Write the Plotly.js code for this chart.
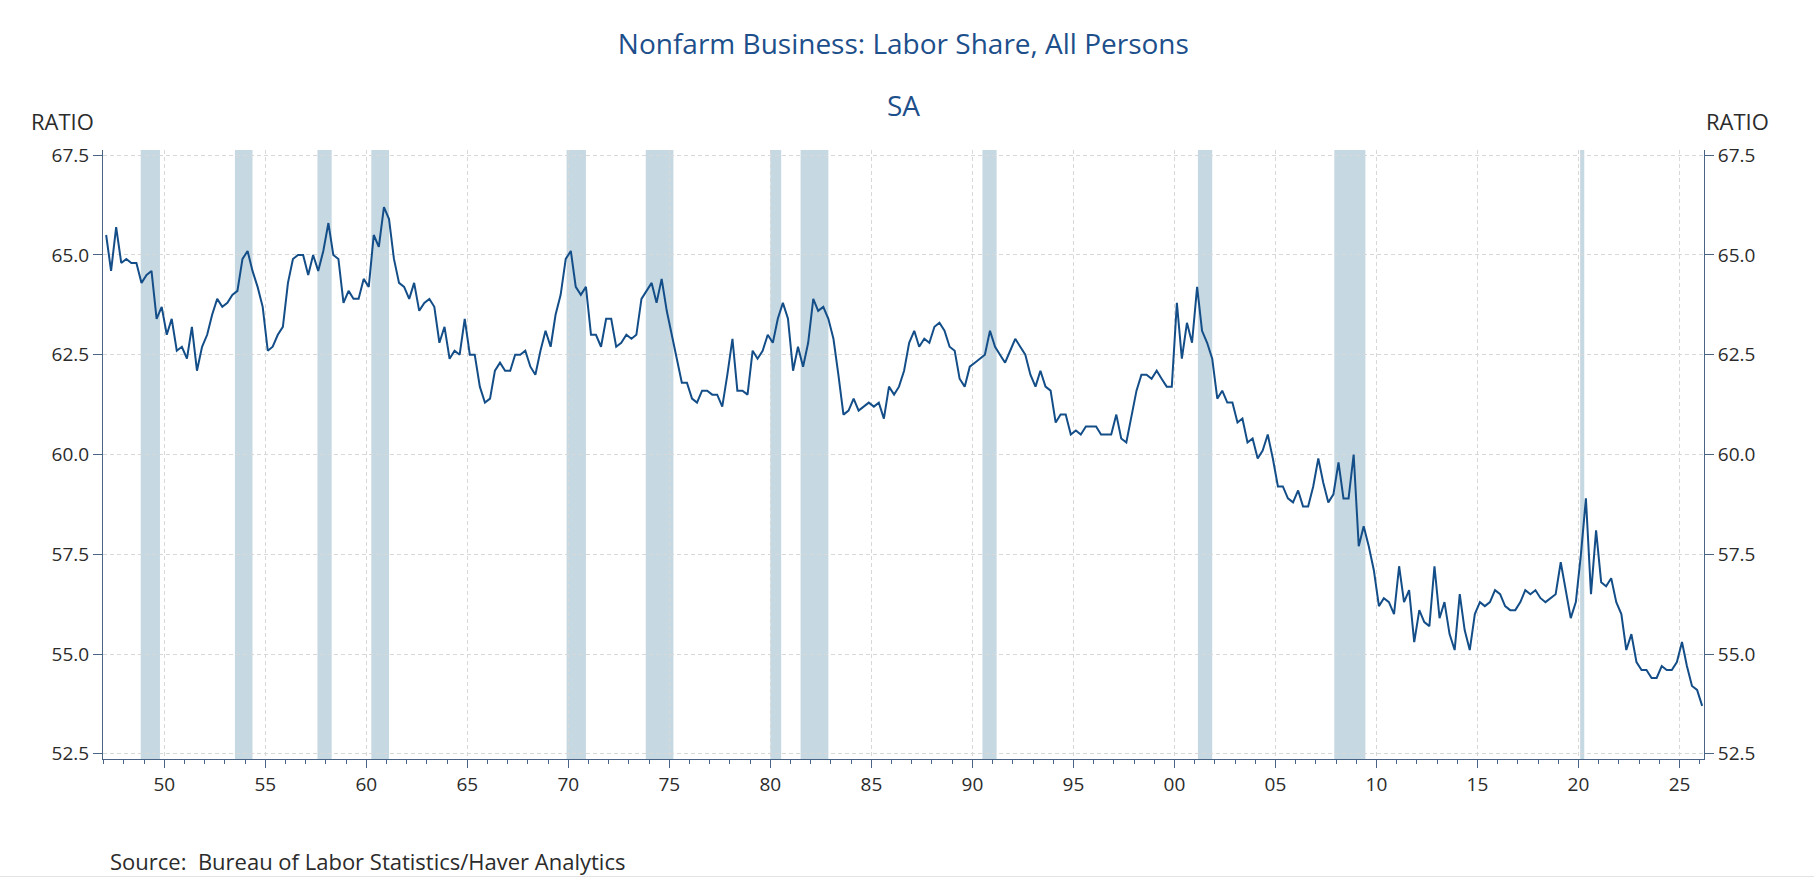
<!DOCTYPE html>
<html>
<head>
<meta charset="utf-8">
<script src="https://cdn.plot.ly/plotly-3.0.1.min.js"></script>
<style>
	body { margin: 0; background: #ffffff; }
	#chart { width: 1814px; height: 880px; }
</style>
</head>
<body>
<div id="chart"></div>
<script>
// labor share, nonfarm business, all persons (ratio, SA), quarterly from 1947 Q1
var firstYear = 1947;
var firstQuarter = 1;
var laborShare = [
	65.5, 64.6, 65.7, 64.8, 64.9, 64.8, 64.8, 64.3, 64.5, 64.6,
	63.4, 63.7, 63.0, 63.4, 62.6, 62.7, 62.4, 63.2, 62.1, 62.7,
	63.0, 63.5, 63.9, 63.7, 63.8, 64.0, 64.1, 64.9, 65.1, 64.6,
	64.2, 63.7, 62.6, 62.7, 63.0, 63.2, 64.3, 64.9, 65.0, 65.0,
	64.5, 65.0, 64.6, 65.1, 65.8, 65.0, 64.9, 63.8, 64.1, 63.9,
	63.9, 64.4, 64.2, 65.5, 65.2, 66.2, 65.9, 64.9, 64.3, 64.2,
	63.9, 64.3, 63.6, 63.8, 63.9, 63.7, 62.8, 63.2, 62.4, 62.6,
	62.5, 63.4, 62.5, 62.5, 61.7, 61.3, 61.4, 62.1, 62.3, 62.1,
	62.1, 62.5, 62.5, 62.6, 62.2, 62.0, 62.6, 63.1, 62.7, 63.5,
	64.0, 64.9, 65.1, 64.2, 64.0, 64.2, 63.0, 63.0, 62.7, 63.4,
	63.4, 62.7, 62.8, 63.0, 62.9, 63.0, 63.9, 64.1, 64.3, 63.8,
	64.4, 63.6, 63.0, 62.4, 61.8, 61.8, 61.4, 61.3, 61.6, 61.6,
	61.5, 61.5, 61.2, 62.0, 62.9, 61.6, 61.6, 61.5, 62.6, 62.4,
	62.6, 63.0, 62.8, 63.4, 63.8, 63.4, 62.1, 62.7, 62.2, 62.8,
	63.9, 63.6, 63.7, 63.4, 62.9, 62.0, 61.0, 61.1, 61.4, 61.1,
	61.2, 61.3, 61.2, 61.3, 60.9, 61.7, 61.5, 61.7, 62.1, 62.8,
	63.1, 62.7, 62.9, 62.8, 63.2, 63.3, 63.1, 62.7, 62.6, 61.9,
	61.7, 62.2, 62.3, 62.4, 62.5, 63.1, 62.7, 62.5, 62.3, 62.6,
	62.9, 62.7, 62.5, 62.0, 61.7, 62.1, 61.7, 61.6, 60.8, 61.0,
	61.0, 60.5, 60.6, 60.5, 60.7, 60.7, 60.7, 60.5, 60.5, 60.5,
	61.0, 60.4, 60.3, 61.0, 61.6, 62.0, 62.0, 61.9, 62.1, 61.9,
	61.7, 61.7, 63.8, 62.4, 63.3, 62.8, 64.2, 63.1, 62.8, 62.4,
	61.4, 61.6, 61.3, 61.3, 60.8, 60.9, 60.3, 60.4, 59.9, 60.1,
	60.5, 59.9, 59.2, 59.2, 58.9, 58.8, 59.1, 58.7, 58.7, 59.2,
	59.9, 59.3, 58.8, 59.0, 59.8, 58.9, 58.9, 60.0, 57.7, 58.2,
	57.7, 57.1, 56.2, 56.4, 56.3, 56.0, 57.2, 56.3, 56.6, 55.3,
	56.1, 55.8, 55.7, 57.2, 55.9, 56.3, 55.5, 55.1, 56.5, 55.6,
	55.1, 56.0, 56.3, 56.2, 56.3, 56.6, 56.5, 56.2, 56.1, 56.1,
	56.3, 56.6, 56.5, 56.6, 56.4, 56.3, 56.4, 56.5, 57.3, 56.6,
	55.9, 56.3, 57.5, 58.9, 56.5, 58.1, 56.8, 56.7, 56.9, 56.3,
	56.0, 55.1, 55.5, 54.8, 54.6, 54.6, 54.4, 54.4, 54.7, 54.6,
	54.6, 54.8, 55.3, 54.7, 54.2, 54.1, 53.7
];

// NBER recessions (peak month, trough month)
var recStart = ['1948-11-01', '1953-07-01', '1957-08-01', '1960-04-01', '1969-12-01', '1973-11-01',
	'1980-01-01', '1981-07-01', '1990-07-01', '2001-03-01', '2007-12-01', '2020-02-01'];
var recEnd = ['1949-10-15', '1954-05-15', '1958-04-15', '1961-02-15', '1970-11-15', '1975-03-15',
	'1980-07-15', '1982-11-15', '1991-03-15', '2001-11-15', '2009-06-15', '2020-04-15'];

var yTicks = [52.5, 55.0, 57.5, 60.0, 62.5, 65.0, 67.5];

// mid-quarter dates for each observation
var midMonths = ['02', '05', '08', '11'];
var dates = [];
for (i = 0; i < laborShare.length; i++) {
	var q = firstQuarter - 1 + i;
	var yr = firstYear + Math.floor(q / 4);
	dates.push(yr + '-' + midMonths[q % 4] + '-15');
}

var lineColour = '#144e88';
var titleColour = '#1d4f8b';
var axisColour = '#4a6485';
var textColour = '#2b2b2b';
var font = 'Open Sans, Noto Sans, DejaVu Sans, sans-serif';

// recession shading
var shapes = [];
for (k = 0; k < recStart.length; k++) {
	shapes.push({
		type: 'rect', xref: 'x', yref: 'paper',
		x0: recStart[k], x1: recEnd[k], y0: 0, y1: 1,
		fillcolor: '#c6d8e2', line: {width: 0}, layer: 'below'
	});
}
// faint separator at the foot of the figure
shapes.push({
	type: 'line', xref: 'paper', yref: 'paper',
	x0: -0.07, x1: 1.07, y0: -0.193, y1: -0.193,
	line: {color: '#e3e3e3', width: 1}
});

var trace = {
	x: dates,
	y: laborShare,
	type: 'scatter',
	mode: 'lines',
	line: {color: lineColour, width: 2},
	hoverinfo: 'x+y'
};

var yAxisCommon = {
	range: [52.37, 67.63],
	tickvals: yTicks,
	tickformat: '.1f',
	ticks: 'outside',
	ticklen: 9,
	tickcolor: axisColour,
	showline: true,
	linecolor: axisColour,
	linewidth: 1,
	zeroline: false,
	tickfont: {family: font, size: 19, color: textColour}
};

var yaxis = Object.assign({}, yAxisCommon, {
	side: 'left',
	showgrid: true,
	gridcolor: '#d8d8d8',
	griddash: '4px,3px',
	gridwidth: 1
});

var yaxis2 = Object.assign({}, yAxisCommon, {
	side: 'right',
	overlaying: 'y',
	showgrid: false
});

var layout = {
	width: 1814,
	height: 880,
	paper_bgcolor: '#ffffff',
	plot_bgcolor: '#ffffff',
	margin: {l: 103, r: 110, t: 150, b: 121},
	showlegend: false,
	title: {
		text: 'Nonfarm Business: Labor Share, All Persons',
		font: {family: font, size: 28, color: titleColour},
		x: 0.498, xanchor: 'center',
		y: 0.95, yanchor: 'middle'
	},
	xaxis: {
		type: 'date',
		range: ['1946-12-20', '2026-03-20'],
		tick0: '1950-01-01',
		dtick: 'M60',
		tickformat: '%y',
		ticks: 'outside',
		ticklen: 8,
		tickcolor: axisColour,
		minor: {dtick: 'M12', ticks: 'outside', ticklen: 4, tickcolor: axisColour, showgrid: false},
		showline: true,
		linecolor: axisColour,
		linewidth: 1,
		showgrid: true,
		gridcolor: '#d8d8d8',
		griddash: '4px,3px',
		gridwidth: 1,
		zeroline: false,
		tickfont: {family: font, size: 19, color: textColour}
	},
	yaxis: yaxis,
	yaxis2: yaxis2,
	shapes: shapes,
	annotations: [
		{
			text: 'SA', xref: 'paper', yref: 'paper', x: 0.5, y: 1.074,
			xanchor: 'center', yanchor: 'middle', showarrow: false,
			font: {family: font, size: 28, color: titleColour}
		},
		{
			text: 'RATIO', xref: 'paper', yref: 'paper', x: -0.046, y: 1.047,
			xanchor: 'left', yanchor: 'middle', showarrow: false,
			font: {family: font, size: 22, color: textColour}
		},
		{
			text: 'RATIO', xref: 'paper', yref: 'paper', x: 1.0, y: 1.047,
			xanchor: 'left', yanchor: 'middle', showarrow: false,
			font: {family: font, size: 22, color: textColour}
		},
		{
			text: 'Source:  Bureau of Labor Statistics/Haver Analytics', xref: 'paper', yref: 'paper',
			x: 0.003, y: -0.168, xanchor: 'left', yanchor: 'middle', showarrow: false,
			font: {family: font, size: 22, color: textColour}
		}
	]
};

// empty companion trace so the right-hand axis is drawn with the same scale
var rightTrace = {x: [], y: [], type: 'scatter', mode: 'lines', yaxis: 'y2', hoverinfo: 'skip'};

Plotly.newPlot('chart', [trace, rightTrace], layout, {displayModeBar: false, staticPlot: true});
</script>
</body>
</html>
